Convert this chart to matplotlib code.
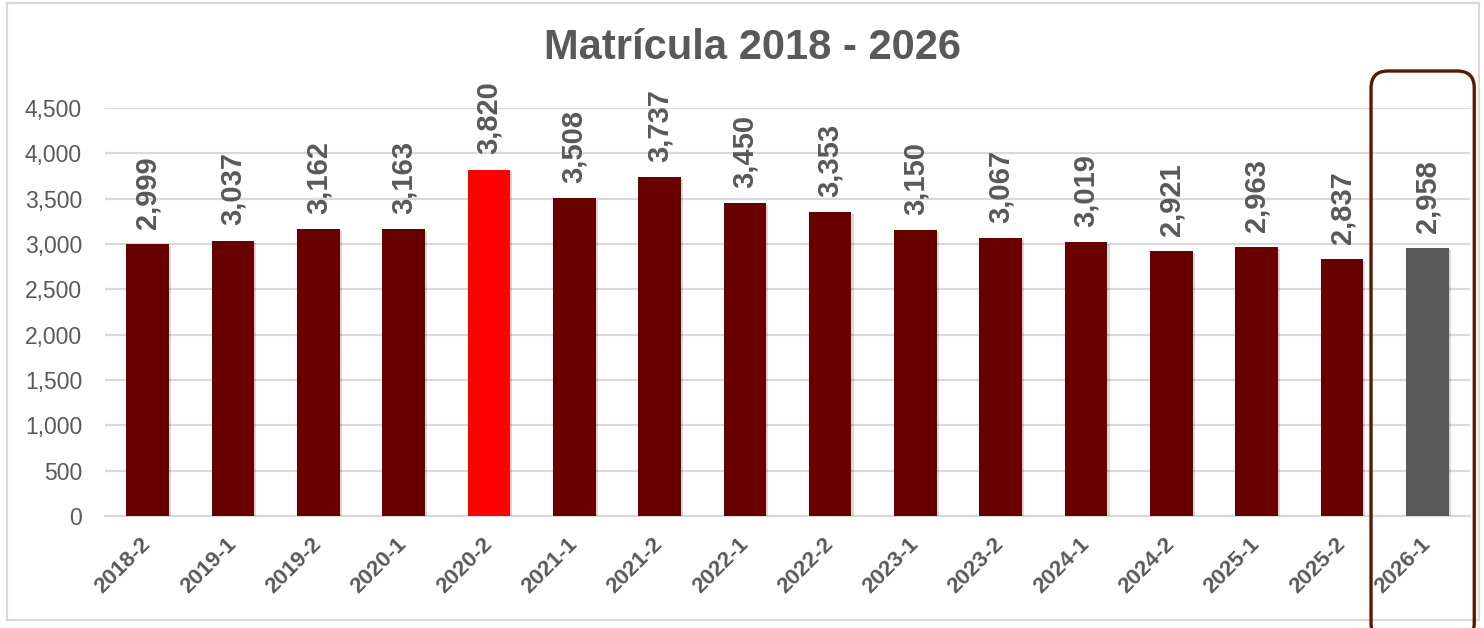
import matplotlib.pyplot as plt
import matplotlib.patheffects as pe
from matplotlib.patches import FancyBboxPatch, Rectangle
from matplotlib.ticker import FuncFormatter

periods = ['2018-2', '2019-1', '2019-2', '2020-1', '2020-2', '2021-1', '2021-2', '2022-1',
           '2022-2', '2023-1', '2023-2', '2024-1', '2024-2', '2025-1', '2025-2', '2026-1']
enrollment = [2999, 3037, 3162, 3163, 3820, 3508, 3737, 3450,
              3353, 3150, 3067, 3019, 2921, 2963, 2837, 2958]
peak_period = '2020-2'
current_period = '2026-1'

dark_red = '#680000'
text_gray = '#595959'
grid_gray = '#d9d9d9'

plt.rcParams['font.family'] = ['Liberation Sans', 'DejaVu Sans']

fig = plt.figure(figsize=(14.84, 6.28), dpi=100)
ax = fig.add_axes([105/1484, 1-516/628, (1470-105)/1484, (516-108)/628])

colors = []
for p in periods:
    if p == peak_period:
        colors.append('#ff0000')
    elif p == current_period:
        colors.append(text_gray)
    else:
        colors.append(dark_red)

x = range(len(periods))
bars = ax.bar(x, enrollment, width=0.5, color=colors, zorder=3)
for b in bars:
    b.set_path_effects([pe.SimplePatchShadow(offset=(1.5, -1.5), shadow_rgbFace='#000000', alpha=0.15),
                        pe.Normal()])

for i, v in enumerate(enrollment):
    ax.annotate(f'{v:,}', (i, v), xytext=(0, 11), textcoords='offset points',
                rotation=90, ha='center', va='bottom', fontsize=21, fontweight='bold',
                color=text_gray, annotation_clip=False)

ax.set_xlim(-0.5, len(periods) - 0.5)
ax.set_ylim(0, 4500)
ax.set_yticks(range(0, 4501, 500))
ax.yaxis.set_major_formatter(FuncFormatter(lambda v, _: f'{int(v):,}'))
ax.set_xticks(list(x))
ax.set_xticklabels(periods, rotation=45, ha='right', va='center', rotation_mode='anchor',
                   fontsize=16, fontweight='bold', color=text_gray)
ax.tick_params(axis='x', length=0, pad=18)
ax.tick_params(axis='y', length=0, pad=16.5, labelsize=16.5, labelcolor=text_gray)
ax.grid(axis='y', color=grid_gray, linewidth=1.6, zorder=0)
for s in ['top', 'right', 'left']:
    ax.spines[s].set_visible(False)
ax.spines['bottom'].set_color(grid_gray)
ax.spines['bottom'].set_linewidth(1.6)

fig.text(753/1484, 1-48/628, 'Matrícula 2018 - 2026', ha='center', va='center',
         fontsize=30, fontweight='bold', color=text_gray)

# outer chart border
fig.patches.append(Rectangle((7/1484, 1-620/628), (1479-7)/1484, (620-3)/628,
                             transform=fig.transFigure, fill=False,
                             edgecolor=grid_gray, linewidth=1.6))

# highlight box around the last period
idx = periods.index(current_period)
fig.canvas.draw()
x0 = ax.transData.transform((idx - 0.66, 0))[0] / fig.dpi
x1 = ax.transData.transform((idx + 0.55, 0))[0] / fig.dpi
y_top = (628 - 71) / fig.dpi
y_bot = (628 - 640) / fig.dpi
fig.patches.append(FancyBboxPatch((x0, y_bot), x1 - x0, y_top - y_bot,
                                  boxstyle='round,pad=0,rounding_size=0.17',
                                  transform=fig.dpi_scale_trans, fill=False,
                                  edgecolor='#5a1a00', linewidth=2.4, clip_on=False))

fig.savefig('out.png', dpi=100)
